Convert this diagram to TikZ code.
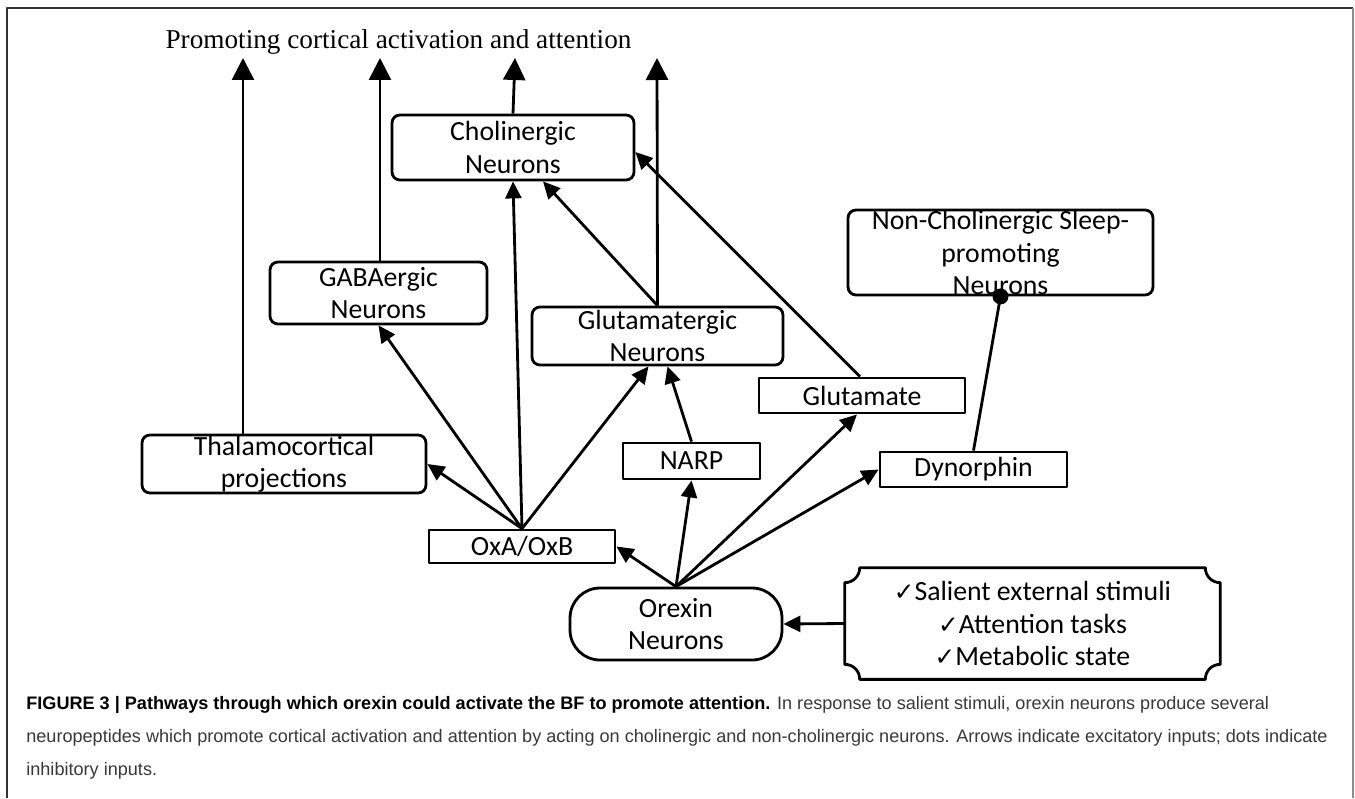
\documentclass[tikz,border=0pt]{standalone}
\usepackage{fontspec}
\usepackage{amsmath, amssymb}
\usetikzlibrary{arrows.meta, positioning, calc}
\setmainfont{Carlito}
\newfontfamily\titlefont{Liberation Serif}
\newfontfamily\capfont{Liberation Sans}
\newfontfamily\tickfont{DejaVu Sans}

\begin{document}
\begin{tikzpicture}[x=0.02cm, y=-0.02cm, >=Stealth, line join=round]
		
		%======================
		% PAGE (1px = 0.02cm, y downwards)
		%======================
		\useasboundingbox (0,0) rectangle (1355,798);
		\draw[line width=1.1pt, black!80] (7,798) -- (7,8) -- (1353,8);
		\draw[line width=1.1pt, black!45] (1353,8) -- (1353,798);
		
		%======================
		% STYLES
		%======================
		\tikzset{
			boxtxt/.style={font=\fontsize{15.8}{18.5}\selectfont, align=center, inner sep=0pt},
			rbox/.style={boxtxt, draw, line width=1.6pt, rounded corners=4.5pt},
			sbox/.style={boxtxt, draw, line width=1.6pt},
			arr/.style={line width=1.6pt, -{Triangle[width=0.32cm, length=0.34cm]}},
			bigarr/.style={line width=1.6pt, -{Triangle[width=0.44cm, length=0.44cm]}},
			inh/.style={line width=1.6pt}
		}
		\newcommand{\tck}{{\tickfont\fontsize{14}{14}\selectfont ✓}}
		
		%======================
		% TITLE AND TARGETS
		%======================
		\node[font=\titlefont\fontsize{15.5}{18}\selectfont, anchor=base] (title) at (398.5,48)
		{Promoting cortical activation and attention};
		
		\coordinate (top1) at (243,58);
		\coordinate (top2) at (380,58);
		\coordinate (top3) at (515,58);
		\coordinate (top4) at (657,58);
		
		%======================
		% BOXES
		%======================
		\node[rbox, minimum width=4.84cm, minimum height=1.30cm] (chol) at (513,147.5) {Cholinergic\\Neurons};
		\node[rbox, minimum width=4.34cm, minimum height=1.24cm] (gaba) at (378.5,293) {GABAergic\\Neurons};
		\node[rbox, minimum width=5.02cm, minimum height=1.16cm] (glun) at (657.5,336) {Glutamatergic\\Neurons};
		\node[rbox, minimum width=6.10cm, minimum height=1.70cm,
		label={[boxtxt]center:{Non-Cholinergic Sleep-\\promoting\\Neurons}}] (noncho) at (1000.5,252.5) {};
		\node[rbox, minimum width=5.68cm, minimum height=1.16cm] (thal) at (284,464) {Thalamocortical\\projections};
		
		\node[sbox, minimum width=3.72cm, minimum height=0.66cm] (oxa) at (522,546.5) {OxA/OxB};
		\node[sbox, minimum width=2.74cm, minimum height=0.72cm] (narp) at (691.5,461) {NARP};
		\node[sbox, minimum width=4.12cm, minimum height=0.70cm] (glut) at (862,395.5) {Glutamate};
		\node[sbox, minimum width=3.74cm, minimum height=0.70cm] (dyn) at (973.5,469.5) {Dynorphin};
		
		\node[rbox, rounded corners=0.6cm, minimum width=4.24cm, minimum height=1.44cm] (orx) at (676,624) {Orexin\\Neurons};
		
		% stimuli box with concave corners
		\node[boxtxt, minimum width=7.5cm, minimum height=2.22cm] (stim) at (1032.5,623.5)
		{\tck Salient external stimuli\\\tck Attention tasks\\\tck Metabolic state};
		\draw[line width=1.6pt]
		($(stim.north west)+(0,-0.3cm)$) .. controls +(0.17cm,0) and +(0,-0.17cm) .. ($(stim.north west)+(0.3cm,0)$)
		-- ($(stim.north east)+(-0.3cm,0)$) .. controls +(0,-0.17cm) and +(-0.17cm,0) .. ($(stim.north east)+(0,-0.3cm)$)
		-- ($(stim.south east)+(0,0.3cm)$) .. controls +(-0.17cm,0) and +(0,0.17cm) .. ($(stim.south east)+(-0.3cm,0)$)
		-- ($(stim.south west)+(0.3cm,0)$) .. controls +(0,0.17cm) and +(0.17cm,0) .. ($(stim.south west)+(0,0.3cm)$)
		-- cycle;
		
		%======================
		% CONNECTIONS
		%======================
		% up to cortex
		\draw[bigarr] (thal.north -| top1) -- (top1);
		\draw[bigarr] (gaba.north -| top2) -- (top2);
		\draw[bigarr] (chol.north) -- (top3);
		\draw[bigarr] (glun.north) -- (top4);
		
		% OxA/OxB fan
		\draw[arr] (oxa.north) -- (thal.east);
		\draw[arr] (oxa.north) -- (gaba.south);
		\draw[arr] (oxa.north) -- (chol.south);
		\draw[arr] (oxa.north) -- ([xshift=-0.18cm]glun.south);
		
		% Orexin fan
		\draw[arr] (orx.north) -- (oxa.east);
		\draw[arr] (orx.north) -- (narp.south);
		\draw[arr] (orx.north) -- ([xshift=-0.1cm]glut.south);
		\draw[arr] (orx.north) -- (dyn.west);
		
		\draw[arr] (narp.north) -- ([xshift=0.2cm]glun.south);
		\draw[arr] (glun.north) -- ([xshift=0.6cm]chol.south);
		\draw[arr] ([xshift=-0.04cm]glut.north) -- ([yshift=-0.09cm]chol.east);
		
		% inhibitory input
		\draw[inh] (dyn.north) -- (noncho.south);
		\fill (noncho.south) circle (0.16cm);
		
		\draw[arr] (stim.west) -- (orx.east);
		
		%======================
		% CAPTION
		%======================
		\node[font=\capfont\fontsize{10.3}{18.7}\selectfont, anchor=base west, align=left, inner sep=0pt, text=black!78] (cap) at (26,775)
		{{\color{black}\textbf{FIGURE 3 | Pathways through which orexin could activate the BF to promote attention.}} In response to salient stimuli, orexin neurons produce several\\
			neuropeptides which promote cortical activation and attention by acting on cholinergic and non-cholinergic neurons. Arrows indicate excitatory inputs; dots indicate\\
			inhibitory inputs.};
		
	\end{tikzpicture}
\end{document}
